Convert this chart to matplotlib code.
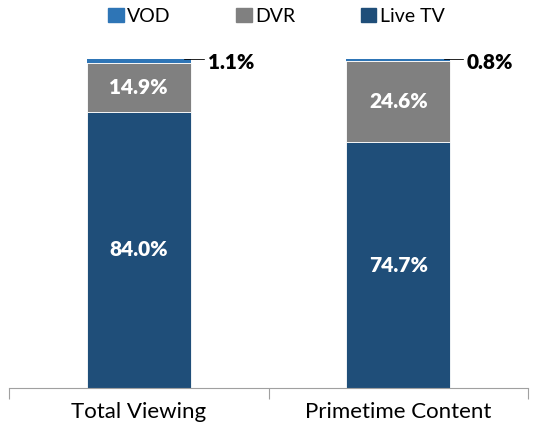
import numpy as np
import matplotlib.pyplot as plt
from matplotlib.patches import Patch

plt.rcParams['font.family'] = ['Lato', 'DejaVu Sans']

categories = ['Total Viewing', 'Primetime Content']
live_tv = [84.0, 74.7]
dvr = [14.9, 24.6]
vod = [1.1, 0.8]

c_live = '#1F4E79'
c_dvr = '#808080'
c_vod = '#2E75B6'

fig = plt.figure(figsize=(5.39, 4.32), dpi=100)
ax = fig.add_axes([9 / 539, 44 / 432, 519 / 539, 329 / 432])

x = np.arange(len(categories))
w = 0.4
live_tv = np.array(live_tv)
dvr = np.array(dvr)
vod = np.array(vod)

ax.bar(x, live_tv, w, color=c_live, edgecolor='white', linewidth=0.6)
ax.bar(x, dvr, w, bottom=live_tv, color=c_dvr, edgecolor='white', linewidth=0.6)
ax.bar(x, vod, w, bottom=live_tv + dvr, color=c_vod, edgecolor='none')

# labels inside bars
for i in range(len(x)):
    ax.text(x[i], live_tv[i] / 2, f'{live_tv[i]:.1f}%', ha='center', va='center',
            color='white', fontsize=15, fontweight='heavy')
    ax.text(x[i], live_tv[i] + dvr[i] / 2, f'{dvr[i]:.1f}%', ha='center', va='center',
            color='white', fontsize=15, fontweight='heavy')
    top = live_tv[i] + dvr[i] + vod[i]
    ax.plot([x[i] + w / 2 - 0.02, x[i] + w / 2 + 0.05], [top, top], color='black', lw=1.2)
    ax.text(x[i] + w / 2 + 0.065, top - 1.2, f'{vod[i]:.1f}%', ha='left', va='center',
            color='black', fontsize=15, fontweight='heavy')

ax.set_xlim(-0.5, 1.5)
ax.set_ylim(0, 100)
ax.set_xticks([-0.5, 0.5, 1.5])
ax.set_xticklabels([])
ax.set_xticks(x, minor=True)
ax.set_xticklabels(categories, minor=True, fontsize=16)
ax.tick_params(axis='x', which='major', length=8, color='#A0A0A0', direction='out')
ax.tick_params(axis='x', which='minor', length=0, pad=10)
ax.set_yticks([])
for s in ['top', 'right', 'left']:
    ax.spines[s].set_visible(False)
ax.spines['bottom'].set_color('#A0A0A0')

handles = [Patch(color=c_vod, label='VOD'), Patch(color=c_dvr, label='DVR'),
           Patch(color=c_live, label='Live TV')]
fig.legend(handles=handles, loc='upper center', bbox_to_anchor=(0.513, 1.022), ncol=3,
           frameon=False, fontsize=14, handlelength=0.8, handleheight=0.7,
           handletextpad=0.2, columnspacing=3.35)

fig.savefig('out.png', dpi=100)
